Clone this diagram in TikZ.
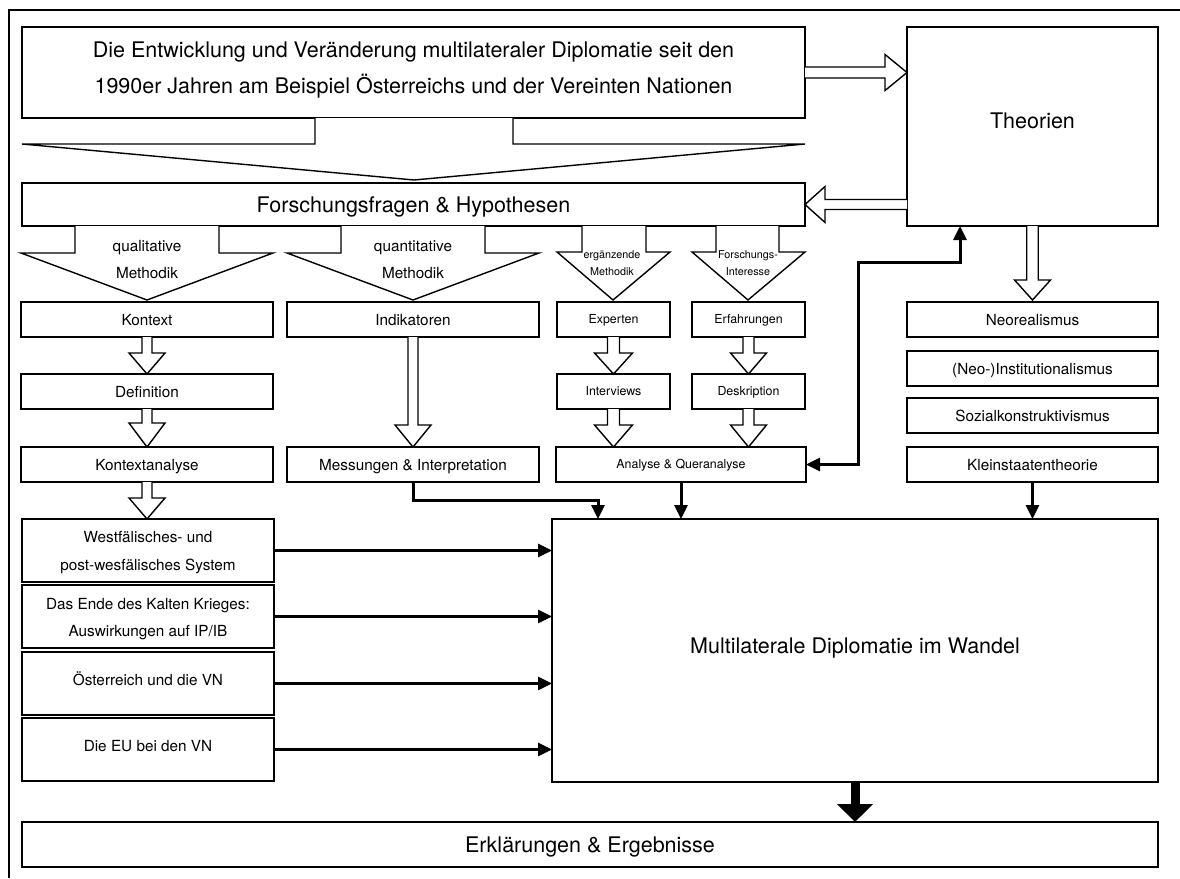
\documentclass[tikz,border=0pt]{standalone}
\usepackage{fontspec}
\setmainfont{TeX Gyre Heros}
\usetikzlibrary{arrows.meta,calc}
\tikzset{
  box/.style={draw, line width=1.5pt, inner sep=0pt, outer sep=0pt},
  hollow/.style={draw, fill=white, line width=1.4pt, line join=miter},
  fL/.style={font=\fontsize{21.5}{25}\selectfont, text height=15.4pt, text depth=0pt},
  fM/.style={font=\fontsize{15.3}{18}\selectfont, text height=11pt, text depth=0pt},
  fS/.style={font=\fontsize{12.4}{15}\selectfont, text height=8.9pt, text depth=0pt},
  fT/.style={font=\fontsize{10.8}{13}\selectfont, text height=7.8pt, text depth=0pt},
  lbl/.style={inner sep=0pt, outer sep=0pt},
  conn/.style={line width=3pt, -{Triangle[length=14pt,width=13pt]}},
  conntwo/.style={line width=3pt, {Triangle[length=14pt,width=13pt]}-{Triangle[length=14pt,width=13pt]}},
  bigarrow/.style={line width=9pt, -{Triangle[length=18pt,width=35pt]}}
}
% #1 options, #2 name, #3 x1, #4 y1, #5 x2, #6 y2, #7 text
\newcommand\mybox[7][]{%
  \node[box,#1,minimum width={#5pt-#3pt},minimum height={#6pt-#4pt}] (#2) at ({(#3+#5)/2},{(#4+#6)/2}) {#7};}
% vertical hollow arrow: #1 tail point, #2 tip, #3 head length, #4 half shaft, #5 half head
\newcommand\vhol[5]{%
  \draw[hollow] ($(#1)+(-#4,0)$) -- ($(#2)+(-#4,-#3)$) -- ($(#2)+(-#5,-#3)$) -- (#2)
    -- ($(#2)+(#5,-#3)$) -- ($(#2)+(#4,-#3)$) -- ($(#1)+(#4,0)$);}
\begin{document}
\begin{tikzpicture}[x=1pt,y=-1pt]
\useasboundingbox (0,0) rectangle (1180,878);
% outer frame (only left and top visible)
\draw[line width=2pt] (8.5,878) -- (8.5,10) -- (1180,10);

% boxes
\mybox{topb}{22}{27}{805}{118}{}
\mybox{theorien}{907}{27}{1158}{226}{}
\mybox[fL]{forsch}{22}{183}{805}{226}{Forschungsfragen \& Hypothesen}

\mybox[fM]{kontext}{21}{302}{273}{337}{Kontext}
\mybox[fM]{indik}{287}{302}{539}{337}{Indikatoren}
\mybox[fS]{experten}{557}{302}{670}{337}{Experten}
\mybox[fS]{erfahr}{692}{302}{805}{337}{Erfahrungen}

\mybox[fM]{defin}{21}{374}{273}{409}{Definition}
\mybox[fS]{interv}{557}{374}{670}{409}{Interviews}
\mybox[fS]{deskr}{692}{374}{805}{409}{Deskription}

\mybox[fM]{kanalyse}{21}{447}{273}{482}{Kontextanalyse}
\mybox[fM]{messung}{287}{447}{539}{482}{Messungen \& Interpretation}
\mybox[fS]{analyse}{556}{447}{806}{482}{Analyse \& Queranalyse}

\mybox[fM]{neoreal}{907}{302}{1158}{337}{Neorealismus}
\mybox[fM]{neoinst}{907}{351}{1158}{386}{(Neo-)Institutionalismus}
\mybox[fM]{sozial}{907}{398}{1158}{433}{Sozialkonstruktivismus}
\mybox[fM]{klein}{907}{447}{1158}{482}{Kleinstaatentheorie}

\mybox{westf}{22}{519}{274}{582}{}
\mybox{ende}{22}{585}{274}{648}{}
\mybox{oest}{22}{652}{274}{715}{}
\mybox{eu}{22}{718}{274}{781}{}

\mybox{multi}{552}{519}{1158}{782}{}
\mybox[fL]{erkl}{22}{822}{1158}{867}{Erklärungen \& Ergebnisse}

% texts of multi-line / offset boxes
\node[lbl,fL] (t1) at (413.5,49.5) {Die Entwicklung und Veränderung multilateraler Diplomatie seit den};
\node[lbl,fL] (t2) at (413.5,86) {1990er Jahren am Beispiel Österreichs und der Vereinten Nationen};
\node[lbl,fL] (tth) at (1032.5,121) {Theorien};
\node[lbl,fL] (tmu) at (855,645.5) {Multilaterale Diplomatie im Wandel};
\node[lbl,fM] (tw1) at (148,537) {Westfälisches- und};
\node[lbl,fM] (tw2) at (148,565) {post-wesfälisches System};
\node[lbl,fM] (te1) at (148,604) {Das Ende des Kalten Krieges:};
\node[lbl,fM] (te2) at (148,631) {Auswirkungen auf IP/IB};
\node[lbl,fM] (to1) at (148,680) {Österreich und die VN};
\node[lbl,fM] (teu) at (148,746) {Die EU bei den VN};

% funnel from title to research questions
\draw[hollow] (315,118) -- (315,144) -- (22,144) -- (414,180) -- (805,144) -- (513,144) -- (513,118);

% method funnels
\draw[hollow] (75,226) -- (75,253) -- (21,253) -- (147,300) -- (273,253) -- (219,253) -- (219,226);
\draw[hollow] (341,226) -- (341,253) -- (287,253) -- (413,300) -- (539,253) -- (485,253) -- (485,226);
\draw[hollow] (582,226) -- (582,252) -- (557,252) -- (613,300) -- (670,252) -- (646,252) -- (646,226);
\draw[hollow] (716,226) -- (716,252) -- (692,252) -- (748,300) -- (805,252) -- (779,252) -- (779,226);
\node[lbl,fM] (q1) at (147,245.5) {qualitative};
\node[lbl,fM] (q2) at (147,273) {Methodik};
\node[lbl,fM] (n1) at (413,245.5) {quantitative};
\node[lbl,fM] (n2) at (413,273) {Methodik};
\node[lbl,fT] (e1) at (612,255) {ergänzende};
\node[lbl,fT] (e2) at (612,271.5) {Methodik};
\node[lbl,fT] (i1) at (748,255) {Forschungs-};
\node[lbl,fT] (i2) at (748,271.5) {Interesse};

% hollow horizontal arrows
\coordinate (tipA) at (topb.east -| theorien.west);
\draw[hollow] ($(topb.east)+(0,-5.5)$) -- ($(tipA)+(-22,-5.5)$) -- ($(tipA)+(-22,-18)$) -- (tipA)
  -- ($(tipA)+(-22,18)$) -- ($(tipA)+(-22,5.5)$) -- ($(topb.east)+(0,5.5)$);
\coordinate (tailB) at (forsch.east -| theorien.west);
\draw[hollow] ($(tailB)+(0,-5)$) -- ($(forsch.east)+(20,-5)$) -- ($(forsch.east)+(20,-18)$) -- (forsch.east)
  -- ($(forsch.east)+(20,18)$) -- ($(forsch.east)+(20,5)$) -- ($(tailB)+(0,5)$);

% hollow vertical arrows
\vhol{kontext.south}{kontext.south |- defin.north}{21}{5}{18}
\vhol{defin.south}{defin.south |- kanalyse.north}{24}{5}{18}
\vhol{kanalyse.south}{kanalyse.south |- westf.north}{21}{5}{18}
\vhol{indik.south}{indik.south |- messung.north}{22}{5}{18}
\vhol{experten.south}{experten.south |- interv.north}{21}{6}{19}
\vhol{interv.south}{interv.south |- analyse.north}{22}{6}{19}
\vhol{erfahr.south}{erfahr.south |- deskr.north}{21}{5.5}{18}
\vhol{deskr.south}{deskr.south |- analyse.north}{22}{5.5}{18}
\coordinate (tn) at ($(neoreal.north)+(0,-2)$);
\vhol{theorien.south}{tn}{20}{5.75}{18}

% black connectors
\foreach \b in {westf,ende,oest,eu}
  \draw[conn] (\b.east) -- (\b.east -| multi.west);
\coordinate (mtgt) at (598,519);
\draw[conn] (messung.south) -- ++(0,18) -| (mtgt);
\draw[conn] (analyse.south) -- (analyse.south |- multi.north);
\draw[conn] (klein.south) -- (klein.south |- multi.north);
\coordinate (k1) at (858,262);
\coordinate (thb) at (960,226);
\draw[conntwo] (analyse.east) -| (k1) -| (thb);
\draw[bigarrow] (multi.south) -- (multi.south |- erkl.north);
\end{tikzpicture}
\end{document}
